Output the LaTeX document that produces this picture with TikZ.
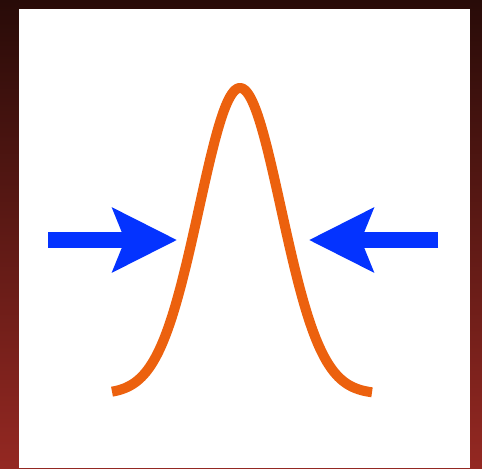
\documentclass[tikz,border=0pt]{standalone}
\usepackage{tikz}
\usetikzlibrary{arrows.meta}
\definecolor{peakorange}{RGB}{236,97,14}
\definecolor{pushblue}{RGB}{4,51,255}
\definecolor{frametop}{RGB}{40,11,8}
\definecolor{framebot}{RGB}{148,40,34}

\begin{document}
\begin{tikzpicture}[
  x=0.02cm,y=-0.02cm,
  curve/.style={draw=peakorange,line width=0.2cm,line cap=butt,line join=round},
  push/.style={draw=pushblue,line width=0.32cm,
               -{Stealth[length=1.28cm,width=1.26cm,inset=0.24cm]}}
]
% background frame and panel
\shade[top color=frametop,bottom color=framebot] (0,0) rectangle (482,468);
\fill[white] (18.5,9) rectangle (470,468);
\useasboundingbox (0,0) rectangle (482,468);

% narrow peak
\draw[curve] plot[domain=-128:132,samples=140,smooth]
  ({240+\x},{394-306*exp(-0.5*(\x/41)*(\x/41))});

% squeezing arrows
\coordinate (lstart) at (48,240);
\coordinate (ltip) at (177,240);
\coordinate (rstart) at (438,240);
\coordinate (rtip) at (309,240);
\draw[push] (lstart) -- (ltip);
\draw[push] (rstart) -- (rtip);
\end{tikzpicture}
\end{document}
